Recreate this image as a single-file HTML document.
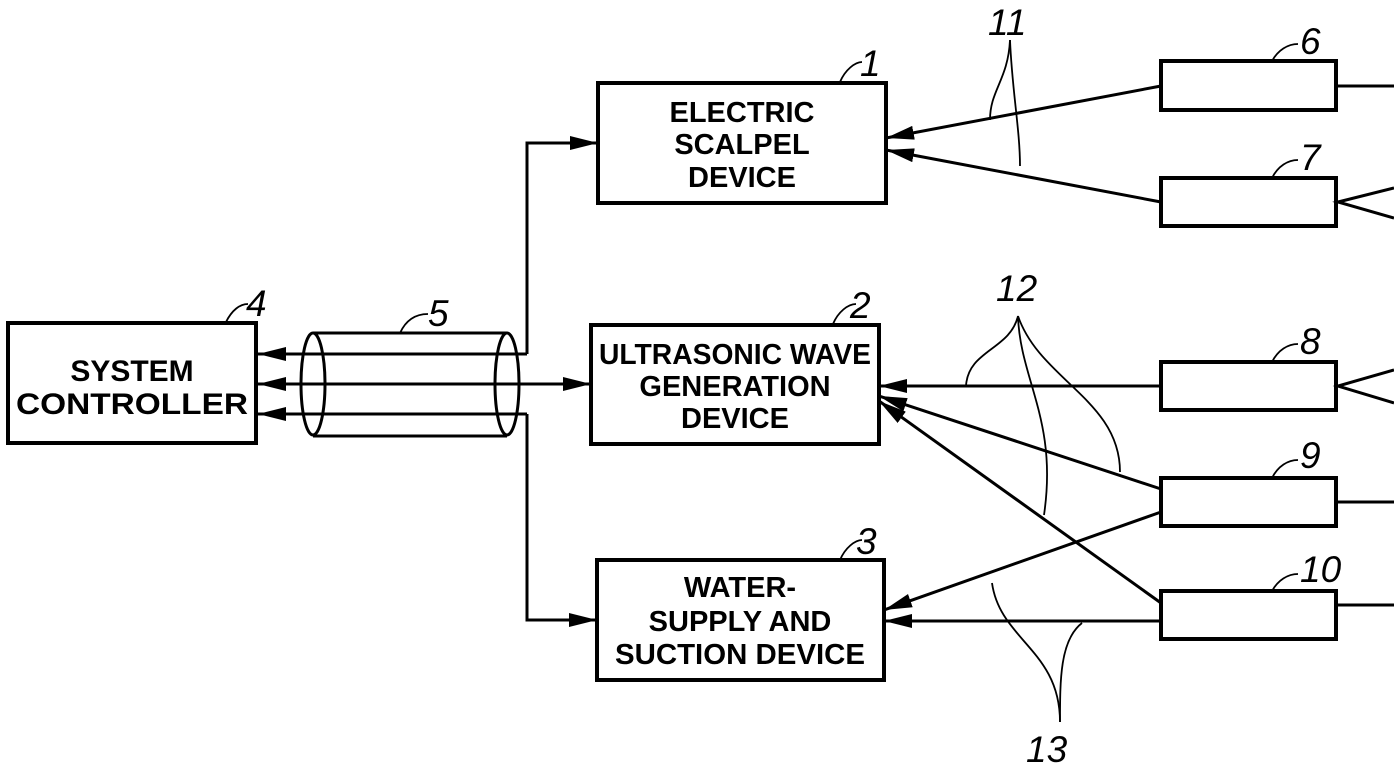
<!DOCTYPE html>
<html><head><style>body{margin:0;background:#fff}svg{display:block}text{font-family:"Liberation Sans",sans-serif}</style></head><body>
<svg width="1394" height="765" viewBox="0 0 1394 765" xmlns="http://www.w3.org/2000/svg">
<defs><marker id="a" markerWidth="30" markerHeight="18" refX="28" refY="9" orient="auto" markerUnits="userSpaceOnUse"><path d="M0,2 L28,9 L0,16 Z" fill="#000"/></marker></defs>
<g fill="none" stroke="#000" stroke-width="4">
<rect x="8" y="323" width="248" height="120"/>
<rect x="598" y="83" width="288" height="120"/>
<rect x="591" y="325" width="288" height="119"/>
<rect x="597" y="560" width="287" height="120"/>
<rect x="1161" y="61" width="175" height="49"/>
<rect x="1161" y="178" width="175" height="48"/>
<rect x="1161" y="362" width="175" height="48"/>
<rect x="1161" y="478" width="175" height="48"/>
<rect x="1161" y="591" width="175" height="48"/>
</g>
<g fill="none" stroke="#000" stroke-width="3">
<ellipse cx="313" cy="384" rx="12" ry="51"/>
<ellipse cx="507" cy="384" rx="12" ry="51"/>
<line x1="313" y1="333" x2="507" y2="333"/><line x1="313" y1="436" x2="507" y2="436"/>
<polyline points="527,354 527,143 598,143" marker-end="url(#a)"/>
<line x1="527" y1="354" x2="258" y2="354" marker-end="url(#a)"/>
<line x1="420" y1="384" x2="258" y2="384" marker-end="url(#a)"/>
<line x1="420" y1="384" x2="591" y2="384" marker-end="url(#a)"/>
<polyline points="527,414 527,620 597,620" marker-end="url(#a)"/>
<line x1="527" y1="414" x2="258" y2="414" marker-end="url(#a)"/>
<line x1="1161" y1="86" x2="886" y2="138" marker-end="url(#a)"/>
<line x1="1161" y1="202" x2="886" y2="150" marker-end="url(#a)"/>
<line x1="1161" y1="386" x2="879" y2="386" marker-end="url(#a)"/>
<line x1="1161" y1="489" x2="879" y2="396" marker-end="url(#a)"/>
<line x1="1161" y1="512" x2="884" y2="610" marker-end="url(#a)"/>
<line x1="1161" y1="603" x2="879" y2="401" marker-end="url(#a)"/>
<line x1="1161" y1="621" x2="884" y2="621" marker-end="url(#a)"/>
<line x1="1336" y1="86" x2="1394" y2="86"/>
<polyline points="1394,188 1338,202 1394,218"/>
<polyline points="1394,370 1338,386 1394,403"/>
<line x1="1336" y1="502" x2="1394" y2="502"/>
<line x1="1336" y1="605" x2="1394" y2="605"/>
</g>
<g fill="none" stroke="#000" stroke-width="1.8">
<path d="M1010,40 C1008,80 990,90 990,120"/><path d="M1010,40 C1012,90 1020,130 1020,166"/>
<path d="M1018,316 C1010,350 968,350 966,386"/><path d="M1018,316 C1020,380 1058,420 1044,515"/><path d="M1018,316 C1040,380 1120,400 1120,472"/>
<path d="M1060,722 C1060,650 1000,640 992,583"/><path d="M1060,722 C1060,680 1060,640 1082,623"/>
<path d="M840,82 C845,70 855,62 862,62"/><path d="M833,324 C838,312 848,304 856,304"/><path d="M840,560 C845,548 855,540 862,540"/>
<path d="M226,322 C232,310 240,304 248,304"/><path d="M400,333 C406,320 416,314 428,314"/>
<path d="M1272,61 C1278,50 1288,44 1298,44"/><path d="M1272,178 C1278,166 1288,160 1298,160"/><path d="M1272,362 C1278,350 1288,344 1298,344"/><path d="M1272,478 C1278,466 1288,460 1298,460"/><path d="M1272,591 C1278,580 1288,574 1298,574"/>
</g>
<g font-size="37" font-style="italic" fill="#000">
<text x="860" y="76">1</text><text x="850" y="318">2</text><text x="856" y="554">3</text>
<text x="246" y="316">4</text><text x="428" y="326">5</text>
<text x="1300" y="54">6</text><text x="1300" y="170">7</text><text x="1300" y="354">8</text><text x="1300" y="468">9</text><text x="1300" y="582">10</text>
<text x="988" y="35">11</text><text x="996" y="301">12</text><text x="1026" y="762">13</text>
</g>
<g font-size="29" font-weight="bold" text-anchor="middle" fill="#000">
<text x="132" y="381" font-size="30">SYSTEM</text>
<text x="132" y="414" textLength="232" lengthAdjust="spacingAndGlyphs" font-size="30">CONTROLLER</text>
<text x="742" y="122">ELECTRIC</text><text x="742" y="154">SCALPEL</text><text x="742" y="187">DEVICE</text>
<text x="735" y="364" textLength="272" lengthAdjust="spacingAndGlyphs">ULTRASONIC WAVE</text><text x="735" y="396">GENERATION</text><text x="735" y="428">DEVICE</text>
<text x="740" y="597">WATER-</text><text x="740" y="631">SUPPLY AND</text><text x="740" y="664" textLength="250" lengthAdjust="spacingAndGlyphs">SUCTION DEVICE</text>
</g>
</svg>
</body></html>
